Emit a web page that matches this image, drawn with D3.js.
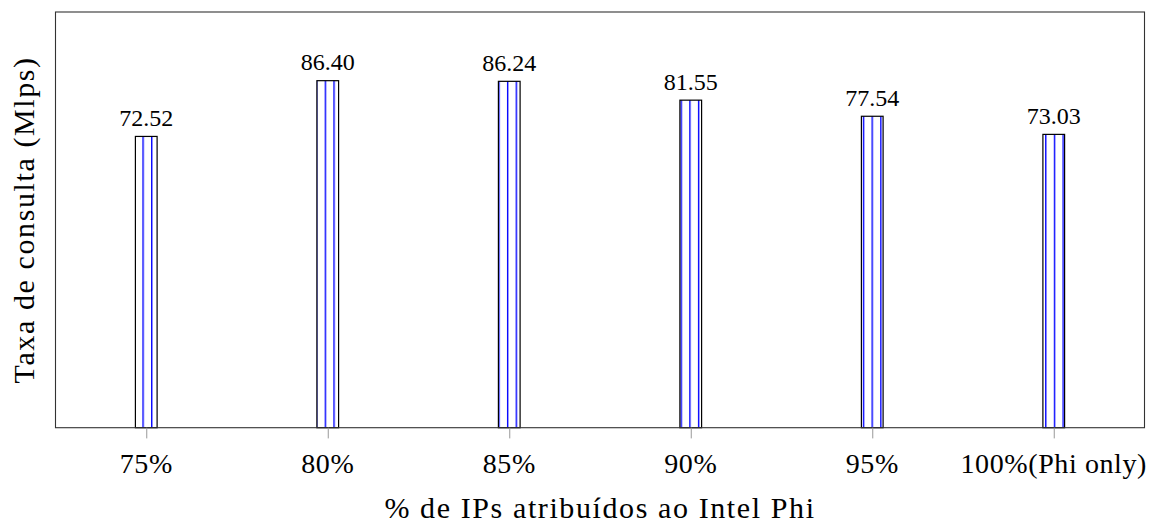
<!DOCTYPE html>
<html>
<head>
<meta charset="utf-8">
<script src="https://cdn.jsdelivr.net/npm/d3@7/dist/d3.min.js"></script>
<style>
  html, body { margin: 0; padding: 0; background: #fff; }
  svg { display: block; }
  text { font-family: "Liberation Serif", "DejaVu Serif", serif; fill: #000; }
</style>
</head>
<body>
<svg id="chart" width="1160" height="531"></svg>
<script>
const categories = ["75%", "80%", "85%", "90%", "95%", "100%(Phi only)"];
const values = [72.52, 86.40, 86.24, 81.55, 77.54, 73.03];
const valueLabels = ["72.52", "86.40", "86.24", "81.55", "77.54", "73.03"];
const xTitle = "% de IPs atribuídos ao Intel Phi";
const yTitle = "Taxa de consulta (Mlps)";

const W = 1160, H = 531;
const m = { left: 55.5, right: 1144.5, top: 12, bottom: 427.7 };
const svg = d3.select("#chart");

const x = d3.scalePoint().domain(categories).range([m.left, m.right]).padding(0.5);
const y = d3.scaleLinear().domain([0, 103.5]).range([m.bottom, m.top]);
const barW = 21.7;

// pattern: vertical blue lines
const defs = svg.append("defs");
const pat = defs.append("pattern")
  .attr("id", "vlines")
  .attr("patternUnits", "userSpaceOnUse")
  .attr("x", 3.5).attr("y", 0)
  .attr("width", 8.68).attr("height", 100);
pat.append("rect").attr("width", 8.68).attr("height", 100).attr("fill", "#fff");
pat.append("line")
  .attr("x1", 0.7).attr("x2", 0.7).attr("y1", 0).attr("y2", 100)
  .attr("stroke", "#0000ff").attr("stroke-width", 1.4);

// bars
svg.append("g").selectAll("rect")
  .data(values)
  .join("rect")
  .attr("x", (d, i) => x(categories[i]) - barW / 2)
  .attr("y", d => y(d))
  .attr("width", barW)
  .attr("height", d => y(0) - y(d))
  .attr("fill", "url(#vlines)")
  .attr("stroke", "#000")
  .attr("stroke-width", 1.2);

// value labels
svg.append("g").selectAll("text")
  .data(values)
  .join("text")
  .attr("x", (d, i) => x(categories[i]))
  .attr("y", d => y(d) - 10.5)
  .attr("text-anchor", "middle")
  .attr("font-size", 24)
  .text((d, i) => valueLabels[i]);

// frame
svg.append("rect")
  .attr("x", m.left).attr("y", m.top)
  .attr("width", m.right - m.left).attr("height", m.bottom - m.top)
  .attr("fill", "none").attr("stroke", "#333").attr("stroke-width", 1.1);

// x axis ticks
const xAxis = d3.axisBottom(x).tickSize(10.7).tickPadding(0).tickFormat(() => "");
const gx = svg.append("g").attr("transform", `translate(0,${m.bottom})`).call(xAxis);
gx.select(".domain").remove();
gx.selectAll(".tick line").attr("stroke", "#999").attr("stroke-width", 1);

// tick labels
svg.append("g").selectAll("text")
  .data(categories)
  .join("text")
  .attr("x", d => x(d))
  .attr("y", 473)
  .attr("text-anchor", "middle")
  .attr("font-size", 28)
  .attr("letter-spacing", 0.6)
  .text(d => d);

// axis titles
svg.append("text")
  .attr("x", (m.left + m.right) / 2)
  .attr("y", 518)
  .attr("text-anchor", "middle")
  .attr("font-size", 30)
  .attr("letter-spacing", 1.6)
  .text(xTitle);

svg.append("text")
  .attr("transform", `translate(34,${(m.top + m.bottom) / 2}) rotate(-90)`)
  .attr("text-anchor", "middle")
  .attr("font-size", 30)
  .attr("letter-spacing", 1.6)
  .text(yTitle);
</script>
</body>
</html>
